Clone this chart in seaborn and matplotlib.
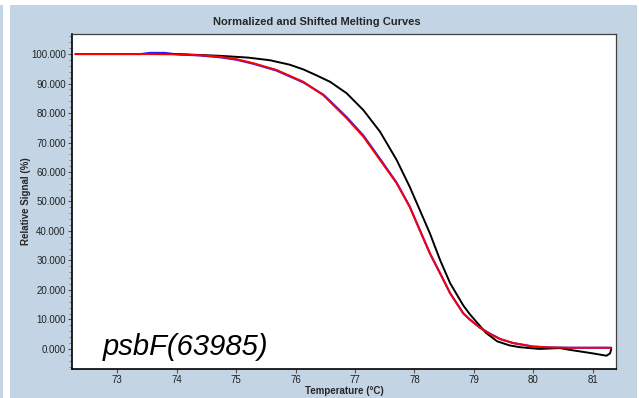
import numpy as np
import pandas as pd
import matplotlib
matplotlib.use("Agg")
import matplotlib.pyplot as plt
from matplotlib.ticker import MultipleLocator, FormatStrFormatter
from matplotlib.patches import Rectangle
import seaborn as sns

sns.set_style("white")
plt.rcParams['font.family'] = ['Liberation Sans', 'DejaVu Sans']

# values
temp_red = [72.3, 73.5, 74.0, 74.4, 74.73, 75.0, 75.29, 75.68, 76.13, 76.47, 76.58,
            76.86, 77.14, 77.42, 77.70, 77.92, 78.09, 78.26, 78.43, 78.60, 78.82,
            78.93, 79.10, 79.27, 79.45, 79.66, 80.0, 80.3, 80.6, 81.0, 81.31]
sig_red = [100.0, 100.0, 99.9, 99.6, 99.1, 98.3, 96.9, 94.6, 90.6, 86.0, 83.8,
           78.2, 72.0, 64.1, 56.2, 48.2, 40.3, 32.4, 25.7, 18.9, 12.1,
           10.0, 7.3, 5.0, 3.3, 2.0, 0.8, 0.5, 0.4, 0.4, 0.4]

temp_blue = [72.3, 73.4, 73.55, 73.8, 74.0, 74.4, 74.73, 75.0, 75.29, 75.68, 76.13,
             76.47, 76.58, 76.86, 77.14, 77.42, 77.70, 77.92, 78.09, 78.26, 78.43,
             78.60, 78.82, 78.93, 79.10, 79.27, 79.45, 79.66, 80.0, 80.3, 80.6,
             81.0, 81.31]
sig_blue = [100.0, 100.0, 100.4, 100.4, 99.9, 99.5, 98.9, 98.1, 96.7, 94.4, 90.4,
            86.2, 84.1, 78.6, 72.4, 64.5, 56.4, 48.3, 40.3, 32.4, 25.7,
            18.9, 12.1, 10.0, 7.2, 5.2, 3.3, 2.0, 0.8, 0.5, 0.4,
            0.4, 0.4]

temp_black = [72.3, 74.0, 74.73, 75.2, 75.57, 75.9, 76.13, 76.35, 76.58, 76.86,
              77.14, 77.42, 77.70, 77.92, 78.09, 78.26, 78.43, 78.60, 78.82, 78.93,
              79.05, 79.2, 79.39, 79.6, 79.77, 80.1, 80.45, 80.61, 81.0, 81.23,
              81.29, 81.31]
sig_black = [100.0, 100.0, 99.4, 98.8, 97.9, 96.4, 94.8, 92.8, 90.6, 86.7,
             81.0, 73.7, 64.1, 55.0, 47.1, 39.2, 30.2, 22.3, 14.8, 11.8,
             9.0, 5.5, 2.6, 1.2, 0.6, 0.0, 0.3, -0.3, -1.5, -2.3,
             -1.5, -0.1]

y_ticks = [0, 10, 20, 30, 40, 50, 60, 70, 80, 90, 100]
x_ticks = [73, 74, 75, 76, 77, 78, 79, 80, 81]

bg = "#c3d5e5"
fig = plt.figure(figsize=(6.39, 3.98), dpi=100, facecolor="white")
fig.patches.append(Rectangle((10 / 639, 0), 627 / 639, 393 / 398, transform=fig.transFigure,
                             facecolor=bg, edgecolor="none", zorder=-10))
fig.patches.append(Rectangle((0, 0), 3 / 639, 393 / 398, transform=fig.transFigure,
                             facecolor=bg, edgecolor="none", zorder=-10))

ax = fig.add_axes([72 / 639, 1 - 369 / 398, 544 / 639, 335 / 398])
ax.set_facecolor("white")

blue = pd.DataFrame({"t": temp_blue, "s": sig_blue})
red = pd.DataFrame({"t": temp_red, "s": sig_red})
black = pd.DataFrame({"t": temp_black, "s": sig_black})
sns.lineplot(data=blue, x="t", y="s", sort=False, color="#2020ff", lw=1.5, ax=ax)
sns.lineplot(data=black, x="t", y="s", sort=False, color="black", lw=1.4, ax=ax)
sns.lineplot(data=red, x="t", y="s", sort=False, color="#ff0000", lw=1.4, ax=ax)

ax.set_xlim(72.24, 81.39)
ax.set_ylim(-6.8, 106.8)
ax.set_yticks(y_ticks)
ax.set_xticks(x_ticks)
ax.yaxis.set_minor_locator(MultipleLocator(2))
ax.yaxis.set_major_formatter(FormatStrFormatter("%.3f"))
ax.tick_params(axis="both", which="major", direction="out", length=3, width=0.8,
               color="#555555", labelsize=7, pad=1.5, labelcolor="#222222")
ax.tick_params(axis="y", which="minor", direction="out", length=2, width=0.6,
               color="#777777", left=True)
ax.tick_params(axis="x", which="both", bottom=True)
ax.tick_params(axis="y", which="both", left=True)

for side in ["left", "bottom"]:
    ax.spines[side].set_color("black")
    ax.spines[side].set_linewidth(1.2)
for side in ["top", "right"]:
    ax.spines[side].set_color("#404040")
    ax.spines[side].set_linewidth(0.9)

ax.set_xlabel("Temperature (°C)", fontsize=7, fontweight="bold", labelpad=0.5)
ax.set_ylabel("Relative Signal (%)", fontsize=7, fontweight="bold", labelpad=0)
fig.text(317 / 639, 1 - 22 / 398, "Normalized and Shifted Melting Curves",
         ha="center", va="center", fontsize=8, fontweight="bold")

ax.text(72.76, -2.0, "psbF(63985)", fontsize=21, fontstyle="italic",
        ha="left", va="baseline", color="black")

fig.savefig("out.png", dpi=100, facecolor="white")
